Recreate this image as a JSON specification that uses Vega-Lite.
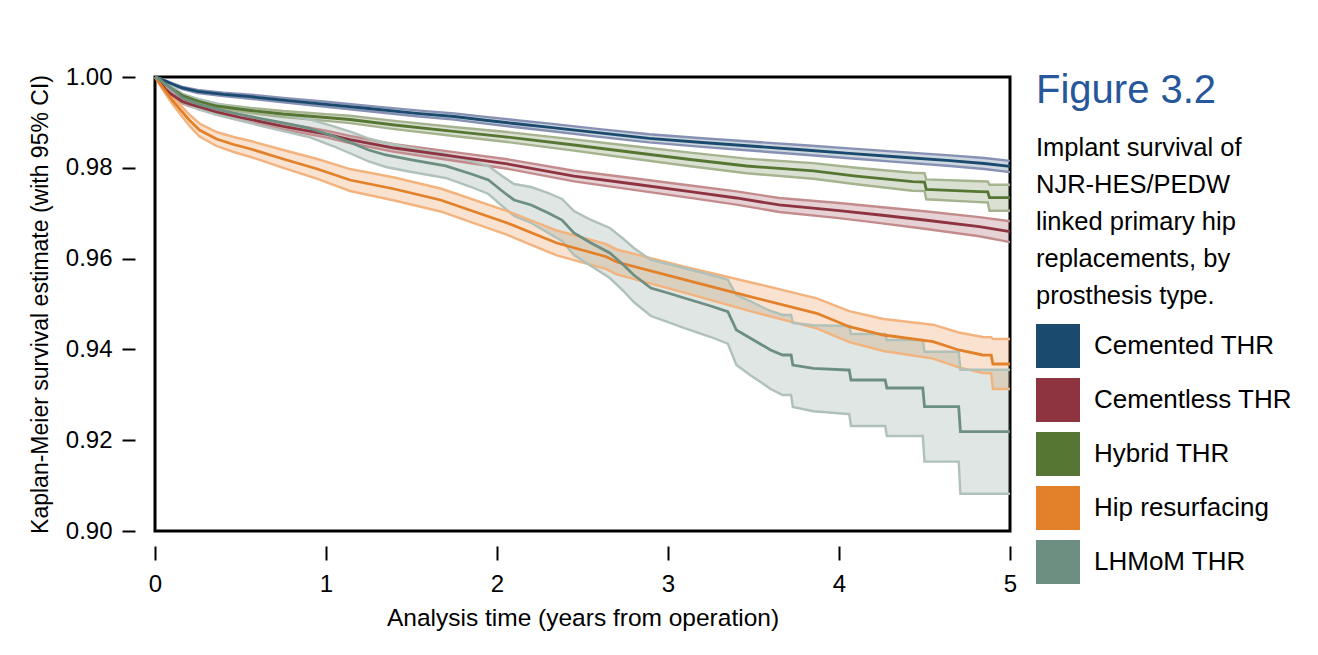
{
  "$schema": "https://vega.github.io/schema/vega-lite/v6.json",
  "width": 855,
  "height": 454,
  "autosize": {"type": "none"},
  "padding": {"left": 155, "top": 77, "right": 308, "bottom": 124},
  "background": "white",
  "config": {
    "view": {"stroke": "black", "strokeWidth": 3},
    "font": "Liberation Sans"
  },
  "title": {
    "text": "Figure 3.2",
    "subtitle": ["Implant survival of", "NJR-HES/PEDW", "linked primary hip", "replacements, by", "prosthesis type."],
    "orient": "top", "anchor": "start", "frame": "group", "offset": 0,
    "dx": 881, "dy": 244,
    "font": "Liberation Sans", "fontSize": 40, "fontWeight": "normal", "color": "#27579b",
    "subtitleFont": "Liberation Sans", "subtitleFontSize": 25.5, "subtitleColor": "black",
    "subtitleLineHeight": 37, "subtitlePadding": 25
  },
  "data": {"values": [
    {"g": "Cemented THR", "t": 0, "s": 1, "lo": 1, "hi": 1},
    {"g": "Cemented THR", "t": 0.03, "s": 0.99956, "lo": 0.99945, "hi": 0.99967},
    {"g": "Cemented THR", "t": 0.06, "s": 0.99912, "lo": 0.99897, "hi": 0.99927},
    {"g": "Cemented THR", "t": 0.1, "s": 0.99846, "lo": 0.99824, "hi": 0.99868},
    {"g": "Cemented THR", "t": 0.16, "s": 0.99758, "lo": 0.99732, "hi": 0.99784},
    {"g": "Cemented THR", "t": 0.25, "s": 0.99681, "lo": 0.99648, "hi": 0.99714},
    {"g": "Cemented THR", "t": 0.4, "s": 0.99615, "lo": 0.99578, "hi": 0.99652},
    {"g": "Cemented THR", "t": 0.56, "s": 0.99566, "lo": 0.99522, "hi": 0.9961},
    {"g": "Cemented THR", "t": 0.75, "s": 0.99493, "lo": 0.99445, "hi": 0.99541},
    {"g": "Cemented THR", "t": 1.0, "s": 0.99399, "lo": 0.99344, "hi": 0.99454},
    {"g": "Cemented THR", "t": 1.25, "s": 0.99306, "lo": 0.99247, "hi": 0.99365},
    {"g": "Cemented THR", "t": 1.53, "s": 0.992, "lo": 0.99134, "hi": 0.99266},
    {"g": "Cemented THR", "t": 1.75, "s": 0.9913, "lo": 0.9906, "hi": 0.992},
    {"g": "Cemented THR", "t": 1.92, "s": 0.99053, "lo": 0.98978, "hi": 0.99128},
    {"g": "Cemented THR", "t": 2.1, "s": 0.98976, "lo": 0.98899, "hi": 0.99053},
    {"g": "Cemented THR", "t": 2.31, "s": 0.98892, "lo": 0.98811, "hi": 0.98973},
    {"g": "Cemented THR", "t": 2.6, "s": 0.98767, "lo": 0.98681, "hi": 0.98853},
    {"g": "Cemented THR", "t": 2.89, "s": 0.9865, "lo": 0.9856, "hi": 0.9874},
    {"g": "Cemented THR", "t": 3.2, "s": 0.98557, "lo": 0.98462, "hi": 0.98652},
    {"g": "Cemented THR", "t": 3.48, "s": 0.9848, "lo": 0.98381, "hi": 0.98579},
    {"g": "Cemented THR", "t": 3.8, "s": 0.98392, "lo": 0.98288, "hi": 0.98496},
    {"g": "Cemented THR", "t": 4.06, "s": 0.98319, "lo": 0.98211, "hi": 0.98427},
    {"g": "Cemented THR", "t": 4.35, "s": 0.98238, "lo": 0.98126, "hi": 0.9835},
    {"g": "Cemented THR", "t": 4.65, "s": 0.98156, "lo": 0.98039, "hi": 0.98273},
    {"g": "Cemented THR", "t": 4.85, "s": 0.98095, "lo": 0.97974, "hi": 0.98216},
    {"g": "Cemented THR", "t": 5.0, "s": 0.98029, "lo": 0.97906, "hi": 0.98152},

    {"g": "Cementless THR", "t": 0, "s": 1, "lo": 1, "hi": 1},
    {"g": "Cementless THR", "t": 0.03, "s": 0.99868, "lo": 0.9985, "hi": 0.99886},
    {"g": "Cementless THR", "t": 0.06, "s": 0.99736, "lo": 0.9971, "hi": 0.99762},
    {"g": "Cementless THR", "t": 0.1, "s": 0.99604, "lo": 0.99571, "hi": 0.99637},
    {"g": "Cementless THR", "t": 0.16, "s": 0.9946, "lo": 0.9942, "hi": 0.995},
    {"g": "Cementless THR", "t": 0.2, "s": 0.99405, "lo": 0.99361, "hi": 0.99449},
    {"g": "Cementless THR", "t": 0.3, "s": 0.99295, "lo": 0.99244, "hi": 0.99346},
    {"g": "Cementless THR", "t": 0.36, "s": 0.99229, "lo": 0.99174, "hi": 0.99284},
    {"g": "Cementless THR", "t": 0.5, "s": 0.99108, "lo": 0.99046, "hi": 0.9917},
    {"g": "Cementless THR", "t": 0.75, "s": 0.98914, "lo": 0.98846, "hi": 0.98982},
    {"g": "Cementless THR", "t": 1.0, "s": 0.98744, "lo": 0.98669, "hi": 0.98819},
    {"g": "Cementless THR", "t": 1.14, "s": 0.98623, "lo": 0.98544, "hi": 0.98702},
    {"g": "Cementless THR", "t": 1.4, "s": 0.98436, "lo": 0.9835, "hi": 0.98522},
    {"g": "Cementless THR", "t": 1.76, "s": 0.98244, "lo": 0.98149, "hi": 0.98339},
    {"g": "Cementless THR", "t": 2.06, "s": 0.98084, "lo": 0.9798, "hi": 0.98188},
    {"g": "Cementless THR", "t": 2.45, "s": 0.97819, "lo": 0.97702, "hi": 0.97936},
    {"g": "Cementless THR", "t": 2.8, "s": 0.97643, "lo": 0.97515, "hi": 0.97771},
    {"g": "Cementless THR", "t": 3.13, "s": 0.97474, "lo": 0.97337, "hi": 0.97611},
    {"g": "Cementless THR", "t": 3.4, "s": 0.97335, "lo": 0.9719, "hi": 0.9748},
    {"g": "Cementless THR", "t": 3.65, "s": 0.97181, "lo": 0.97027, "hi": 0.97335},
    {"g": "Cementless THR", "t": 4.0, "s": 0.97059, "lo": 0.96892, "hi": 0.97226},
    {"g": "Cementless THR", "t": 4.24, "s": 0.9696, "lo": 0.96782, "hi": 0.97138},
    {"g": "Cementless THR", "t": 4.5, "s": 0.9685, "lo": 0.96658, "hi": 0.97042},
    {"g": "Cementless THR", "t": 4.82, "s": 0.96703, "lo": 0.96492, "hi": 0.96914},
    {"g": "Cementless THR", "t": 5.0, "s": 0.96593, "lo": 0.96362, "hi": 0.96824},

    {"g": "Hybrid THR", "t": 0, "s": 1, "lo": 1, "hi": 1},
    {"g": "Hybrid THR", "t": 0.03, "s": 0.99934, "lo": 0.99921, "hi": 0.99947},
    {"g": "Hybrid THR", "t": 0.06, "s": 0.99846, "lo": 0.99826, "hi": 0.99866},
    {"g": "Hybrid THR", "t": 0.1, "s": 0.99736, "lo": 0.9971, "hi": 0.99762},
    {"g": "Hybrid THR", "t": 0.16, "s": 0.99593, "lo": 0.9956, "hi": 0.99626},
    {"g": "Hybrid THR", "t": 0.25, "s": 0.99471, "lo": 0.99431, "hi": 0.99511},
    {"g": "Hybrid THR", "t": 0.36, "s": 0.99361, "lo": 0.99313, "hi": 0.99409},
    {"g": "Hybrid THR", "t": 0.56, "s": 0.99262, "lo": 0.99205, "hi": 0.99319},
    {"g": "Hybrid THR", "t": 0.75, "s": 0.99185, "lo": 0.99119, "hi": 0.99251},
    {"g": "Hybrid THR", "t": 1.0, "s": 0.99108, "lo": 0.99033, "hi": 0.99183},
    {"g": "Hybrid THR", "t": 1.14, "s": 0.99064, "lo": 0.98983, "hi": 0.99145},
    {"g": "Hybrid THR", "t": 1.4, "s": 0.98943, "lo": 0.98853, "hi": 0.99033},
    {"g": "Hybrid THR", "t": 1.76, "s": 0.98795, "lo": 0.98696, "hi": 0.98894},
    {"g": "Hybrid THR", "t": 2.06, "s": 0.98678, "lo": 0.98568, "hi": 0.98788},
    {"g": "Hybrid THR", "t": 2.45, "s": 0.98502, "lo": 0.98379, "hi": 0.98625},
    {"g": "Hybrid THR", "t": 2.8, "s": 0.98337, "lo": 0.982, "hi": 0.98474},
    {"g": "Hybrid THR", "t": 3.13, "s": 0.98183, "lo": 0.98033, "hi": 0.98333},
    {"g": "Hybrid THR", "t": 3.46, "s": 0.9804, "lo": 0.97879, "hi": 0.98201},
    {"g": "Hybrid THR", "t": 3.85, "s": 0.9793, "lo": 0.97758, "hi": 0.98102},
    {"g": "Hybrid THR", "t": 4.1, "s": 0.97819, "lo": 0.97638, "hi": 0.98},
    {"g": "Hybrid THR", "t": 4.43, "s": 0.97694, "lo": 0.97496, "hi": 0.97892},
    {"g": "Hybrid THR", "t": 4.5, "s": 0.97685, "lo": 0.97487, "hi": 0.97883},
    {"g": "Hybrid THR", "t": 4.51, "s": 0.97526, "lo": 0.97306, "hi": 0.97746},
    {"g": "Hybrid THR", "t": 4.82, "s": 0.97474, "lo": 0.97243, "hi": 0.97705},
    {"g": "Hybrid THR", "t": 4.87, "s": 0.97468, "lo": 0.97237, "hi": 0.97699},
    {"g": "Hybrid THR", "t": 4.88, "s": 0.97341, "lo": 0.97055, "hi": 0.97627},
    {"g": "Hybrid THR", "t": 5.0, "s": 0.97341, "lo": 0.97055, "hi": 0.97627},

    {"g": "Hip resurfacing", "t": 0, "s": 1, "lo": 1, "hi": 1},
    {"g": "Hip resurfacing", "t": 0.03, "s": 0.99846, "lo": 0.99813, "hi": 0.99879},
    {"g": "Hip resurfacing", "t": 0.06, "s": 0.99692, "lo": 0.99637, "hi": 0.99747},
    {"g": "Hip resurfacing", "t": 0.1, "s": 0.99493, "lo": 0.99416, "hi": 0.9957},
    {"g": "Hip resurfacing", "t": 0.16, "s": 0.99229, "lo": 0.99119, "hi": 0.99339},
    {"g": "Hip resurfacing", "t": 0.2, "s": 0.99053, "lo": 0.98932, "hi": 0.99174},
    {"g": "Hip resurfacing", "t": 0.26, "s": 0.98833, "lo": 0.9869, "hi": 0.98976},
    {"g": "Hip resurfacing", "t": 0.36, "s": 0.98634, "lo": 0.9848, "hi": 0.98788},
    {"g": "Hip resurfacing", "t": 0.46, "s": 0.98513, "lo": 0.98348, "hi": 0.98678},
    {"g": "Hip resurfacing", "t": 0.56, "s": 0.98414, "lo": 0.98238, "hi": 0.9859},
    {"g": "Hip resurfacing", "t": 0.75, "s": 0.98194, "lo": 0.97996, "hi": 0.98392},
    {"g": "Hip resurfacing", "t": 0.95, "s": 0.97974, "lo": 0.97754, "hi": 0.98194},
    {"g": "Hip resurfacing", "t": 1.14, "s": 0.97731, "lo": 0.97489, "hi": 0.97973},
    {"g": "Hip resurfacing", "t": 1.4, "s": 0.97533, "lo": 0.9728, "hi": 0.97786},
    {"g": "Hip resurfacing", "t": 1.67, "s": 0.97291, "lo": 0.97038, "hi": 0.97544},
    {"g": "Hip resurfacing", "t": 2.06, "s": 0.96784, "lo": 0.9652, "hi": 0.97048},
    {"g": "Hip resurfacing", "t": 2.35, "s": 0.96344, "lo": 0.96069, "hi": 0.96619},
    {"g": "Hip resurfacing", "t": 2.64, "s": 0.96042, "lo": 0.95767, "hi": 0.96317},
    {"g": "Hip resurfacing", "t": 2.7, "s": 0.95925, "lo": 0.9565, "hi": 0.962},
    {"g": "Hip resurfacing", "t": 3.09, "s": 0.95544, "lo": 0.95258, "hi": 0.9583},
    {"g": "Hip resurfacing", "t": 3.48, "s": 0.95161, "lo": 0.94842, "hi": 0.9548},
    {"g": "Hip resurfacing", "t": 3.87, "s": 0.94795, "lo": 0.94465, "hi": 0.95125},
    {"g": "Hip resurfacing", "t": 4.06, "s": 0.945, "lo": 0.94159, "hi": 0.94841},
    {"g": "Hip resurfacing", "t": 4.26, "s": 0.94317, "lo": 0.93965, "hi": 0.94669},
    {"g": "Hip resurfacing", "t": 4.55, "s": 0.9417, "lo": 0.93796, "hi": 0.94544},
    {"g": "Hip resurfacing", "t": 4.7, "s": 0.93987, "lo": 0.93602, "hi": 0.94372},
    {"g": "Hip resurfacing", "t": 4.84, "s": 0.93877, "lo": 0.93481, "hi": 0.94273},
    {"g": "Hip resurfacing", "t": 4.89, "s": 0.93872, "lo": 0.93476, "hi": 0.94268},
    {"g": "Hip resurfacing", "t": 4.9, "s": 0.93678, "lo": 0.93127, "hi": 0.94229},
    {"g": "Hip resurfacing", "t": 5.0, "s": 0.93678, "lo": 0.93127, "hi": 0.94229},

    {"g": "LHMoM THR", "t": 0, "s": 1, "lo": 1, "hi": 1},
    {"g": "LHMoM THR", "t": 0.03, "s": 0.99934, "lo": 0.99901, "hi": 0.99967},
    {"g": "LHMoM THR", "t": 0.06, "s": 0.99846, "lo": 0.99791, "hi": 0.99901},
    {"g": "LHMoM THR", "t": 0.1, "s": 0.99736, "lo": 0.9967, "hi": 0.99802},
    {"g": "LHMoM THR", "t": 0.16, "s": 0.99537, "lo": 0.99449, "hi": 0.99625},
    {"g": "LHMoM THR", "t": 0.25, "s": 0.99405, "lo": 0.99295, "hi": 0.99515},
    {"g": "LHMoM THR", "t": 0.36, "s": 0.99295, "lo": 0.99174, "hi": 0.99416},
    {"g": "LHMoM THR", "t": 0.46, "s": 0.99207, "lo": 0.99075, "hi": 0.99339},
    {"g": "LHMoM THR", "t": 0.6, "s": 0.99097, "lo": 0.98943, "hi": 0.99251},
    {"g": "LHMoM THR", "t": 0.75, "s": 0.98987, "lo": 0.98811, "hi": 0.99163},
    {"g": "LHMoM THR", "t": 0.9, "s": 0.98877, "lo": 0.98679, "hi": 0.99075},
    {"g": "LHMoM THR", "t": 1.04, "s": 0.987, "lo": 0.9848, "hi": 0.9892},
    {"g": "LHMoM THR", "t": 1.15, "s": 0.98546, "lo": 0.98304, "hi": 0.98788},
    {"g": "LHMoM THR", "t": 1.25, "s": 0.98392, "lo": 0.98139, "hi": 0.98645},
    {"g": "LHMoM THR", "t": 1.35, "s": 0.98282, "lo": 0.98018, "hi": 0.98546},
    {"g": "LHMoM THR", "t": 1.5, "s": 0.98172, "lo": 0.97908, "hi": 0.98436},
    {"g": "LHMoM THR", "t": 1.7, "s": 0.9804, "lo": 0.97776, "hi": 0.98304},
    {"g": "LHMoM THR", "t": 1.85, "s": 0.97863, "lo": 0.97577, "hi": 0.98149},
    {"g": "LHMoM THR", "t": 1.95, "s": 0.97731, "lo": 0.97423, "hi": 0.98039},
    {"g": "LHMoM THR", "t": 2.03, "s": 0.97489, "lo": 0.97159, "hi": 0.97819},
    {"g": "LHMoM THR", "t": 2.1, "s": 0.97291, "lo": 0.96939, "hi": 0.97643},
    {"g": "LHMoM THR", "t": 2.2, "s": 0.97181, "lo": 0.96785, "hi": 0.97577},
    {"g": "LHMoM THR", "t": 2.3, "s": 0.97004, "lo": 0.96563, "hi": 0.97445},
    {"g": "LHMoM THR", "t": 2.38, "s": 0.9685, "lo": 0.96387, "hi": 0.97313},
    {"g": "LHMoM THR", "t": 2.45, "s": 0.96564, "lo": 0.96079, "hi": 0.97049},
    {"g": "LHMoM THR", "t": 2.55, "s": 0.96344, "lo": 0.95837, "hi": 0.96851},
    {"g": "LHMoM THR", "t": 2.66, "s": 0.96123, "lo": 0.95572, "hi": 0.96674},
    {"g": "LHMoM THR", "t": 2.74, "s": 0.95859, "lo": 0.95286, "hi": 0.96432},
    {"g": "LHMoM THR", "t": 2.8, "s": 0.95639, "lo": 0.95044, "hi": 0.96234},
    {"g": "LHMoM THR", "t": 2.9, "s": 0.95352, "lo": 0.94735, "hi": 0.95969},
    {"g": "LHMoM THR", "t": 3.0, "s": 0.95242, "lo": 0.94603, "hi": 0.95881},
    {"g": "LHMoM THR", "t": 3.1, "s": 0.95126, "lo": 0.94465, "hi": 0.95787},
    {"g": "LHMoM THR", "t": 3.25, "s": 0.94956, "lo": 0.94273, "hi": 0.95639},
    {"g": "LHMoM THR", "t": 3.35, "s": 0.9483, "lo": 0.94125, "hi": 0.95535},
    {"g": "LHMoM THR", "t": 3.4, "s": 0.94427, "lo": 0.93656, "hi": 0.95198},
    {"g": "LHMoM THR", "t": 3.48, "s": 0.94251, "lo": 0.93436, "hi": 0.95066},
    {"g": "LHMoM THR", "t": 3.55, "s": 0.94097, "lo": 0.9326, "hi": 0.94934},
    {"g": "LHMoM THR", "t": 3.6, "s": 0.93987, "lo": 0.93128, "hi": 0.94846},
    {"g": "LHMoM THR", "t": 3.67, "s": 0.93877, "lo": 0.92996, "hi": 0.94758},
    {"g": "LHMoM THR", "t": 3.72, "s": 0.93877, "lo": 0.92996, "hi": 0.94758},
    {"g": "LHMoM THR", "t": 3.73, "s": 0.93656, "lo": 0.92731, "hi": 0.94581},
    {"g": "LHMoM THR", "t": 3.85, "s": 0.93584, "lo": 0.92637, "hi": 0.94531},
    {"g": "LHMoM THR", "t": 4.05, "s": 0.93546, "lo": 0.92577, "hi": 0.94515},
    {"g": "LHMoM THR", "t": 4.06, "s": 0.93546, "lo": 0.92577, "hi": 0.94515},
    {"g": "LHMoM THR", "t": 4.07, "s": 0.93326, "lo": 0.92313, "hi": 0.94339},
    {"g": "LHMoM THR", "t": 4.27, "s": 0.93326, "lo": 0.92313, "hi": 0.94339},
    {"g": "LHMoM THR", "t": 4.28, "s": 0.9315, "lo": 0.92093, "hi": 0.94207},
    {"g": "LHMoM THR", "t": 4.49, "s": 0.9315, "lo": 0.92093, "hi": 0.94207},
    {"g": "LHMoM THR", "t": 4.5, "s": 0.92738, "lo": 0.91527, "hi": 0.93949},
    {"g": "LHMoM THR", "t": 4.7, "s": 0.92738, "lo": 0.91527, "hi": 0.93949},
    {"g": "LHMoM THR", "t": 4.71, "s": 0.92187, "lo": 0.90821, "hi": 0.93553},
    {"g": "LHMoM THR", "t": 5.0, "s": 0.92187, "lo": 0.90821, "hi": 0.93553}
  ]},
  "encoding": {
    "x": {
      "field": "t", "type": "quantitative",
      "title": "Analysis time (years from operation)",
      "scale": {"domain": [0, 5], "nice": false, "zero": false},
      "axis": {
        "values": [0, 1, 2, 3, 4, 5], "format": "d", "grid": false, "domain": false,
        "offset": 15, "tickSize": 14, "tickWidth": 2, "tickColor": "black",
        "labelPadding": 12, "labelFontSize": 24, "labelColor": "black", "labelFlush": false, "labelOverlap": false,
        "labelFont": "Liberation Sans",
        "titleFont": "Liberation Sans", "titleFontSize": 24.5, "titleFontWeight": "normal", "titleColor": "black", "titlePadding": 10
      }
    }
  },
  "layer": [
    {
      "mark": {"type": "area", "interpolate": "linear"},
      "encoding": {
        "y": {
          "field": "lo", "type": "quantitative",
          "title": "Kaplan-Meier survival estimate (with 95% CI)",
          "scale": {"domain": [0.9, 1.0], "nice": false, "zero": false},
          "axis": {
            "values": [0.9, 0.92, 0.94, 0.96, 0.98, 1.0], "format": ".2f", "grid": false, "domain": false,
            "offset": 20, "tickSize": 13, "tickWidth": 2, "tickColor": "black",
            "labelPadding": 10, "labelFontSize": 24, "labelColor": "black", "labelFlush": false, "labelOverlap": false,
            "labelFont": "Liberation Sans",
            "titleFont": "Liberation Sans", "titleFontSize": 23, "titleFontWeight": "normal", "titleColor": "black", "titlePadding": 13
          }
        },
        "y2": {"field": "hi"},
        "fillOpacity": {"value": 0.22},
        "color": {
          "field": "g", "type": "nominal",
          "scale": {
            "domain": ["Cemented THR", "Cementless THR", "Hybrid THR", "Hip resurfacing", "LHMoM THR"],
            "range": ["#1b4a6f", "#8e3440", "#567634", "#e3812b", "#6d8f82"]
          },
          "legend": {
            "title": null, "orient": "none", "legendX": 881, "legendY": 247,
            "symbolType": "square", "symbolSize": 1936, "symbolStrokeWidth": 0, "symbolOpacity": 1,
            "labelFont": "Liberation Sans", "labelFontSize": 26, "labelColor": "black", "labelOffset": 14,
            "labelLimit": 400, "rowPadding": 10, "padding": 0
          }
        }
      }
    },
    {
      "mark": {"type": "line", "interpolate": "linear", "strokeWidth": 2.4},
      "encoding": {
        "y": {"field": "lo", "type": "quantitative", "title": "Kaplan-Meier survival estimate (with 95% CI)"},
        "stroke": {
          "field": "g", "type": "nominal", "legend": null,
          "scale": {
            "domain": ["Cemented THR", "Cementless THR", "Hybrid THR", "Hip resurfacing", "LHMoM THR"],
            "range": ["#8791b4", "#c48b8c", "#a5b38e", "#f2b37e", "#b0c1ba"]
          }
        }
      }
    },
    {
      "mark": {"type": "line", "interpolate": "linear", "strokeWidth": 2.4},
      "encoding": {
        "y": {"field": "hi", "type": "quantitative", "title": "Kaplan-Meier survival estimate (with 95% CI)"},
        "stroke": {"field": "g", "type": "nominal", "legend": null}
      }
    },
    {
      "mark": {"type": "line", "interpolate": "linear", "strokeWidth": 2.8},
      "encoding": {
        "y": {"field": "s", "type": "quantitative", "title": "Kaplan-Meier survival estimate (with 95% CI)"},
        "color": {"field": "g", "type": "nominal"}
      }
    }
  ]
}
